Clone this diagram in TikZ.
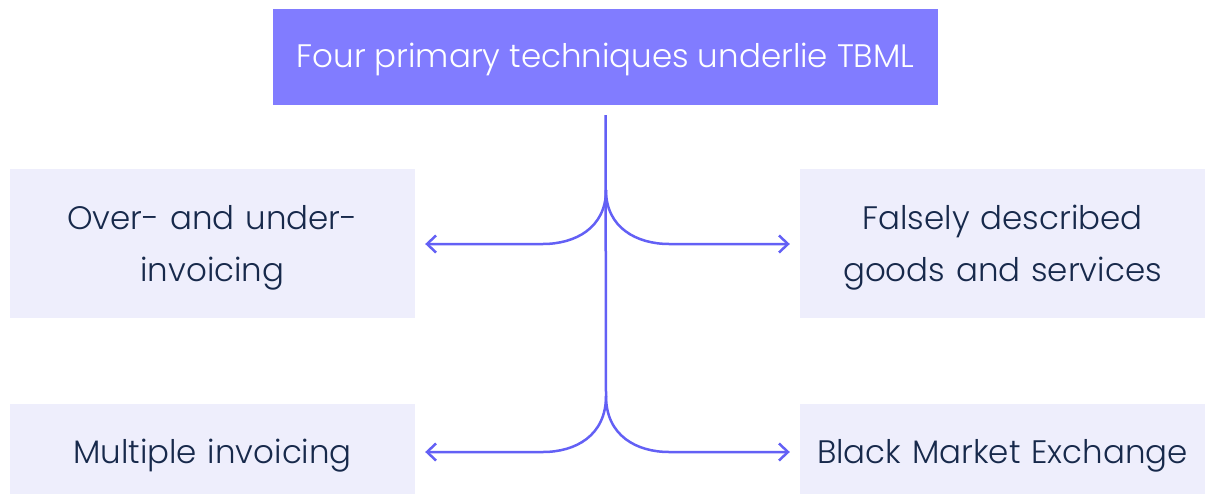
\documentclass[tikz,border=0pt]{standalone}
\usepackage{fontspec}
\setmainfont{Poppins}[UprightFont=* Light]
\usepackage{xcolor}
\usetikzlibrary{arrows.meta,positioning}
\definecolor{headfill}{HTML}{817CFF}
\definecolor{boxfill}{HTML}{EEEEFC}
\definecolor{linkcol}{HTML}{6360F5}
\definecolor{inktext}{HTML}{17294B}

\begin{document}
\begin{tikzpicture}[
  x=1pt, y=-1pt,
  font=\fontsize{32.5}{52}\selectfont,
  head/.style={fill=headfill, text=white, minimum width=665pt,
               minimum height=96pt, inner sep=0pt,
               text height=21pt, text depth=0pt},
  item/.style={fill=boxfill, text=inktext, align=center, inner sep=0pt,
               minimum width=405pt, text width=400pt},
  tall/.style={item, minimum height=149pt, text height=22pt, text depth=51pt},
  flat/.style={item, minimum height=90pt, text height=28pt, text depth=0pt},
  link/.style={draw=linkcol, line width=2.5pt},
  arr/.style={link, -{Straight Barb[length=9pt, width=17pt, line width=2.5pt]}}
]
\useasboundingbox (0,0) rectangle (1207,495);
\node[head] (top) at (605.5,57) {Four primary techniques underlie TBML};
\node[tall] (ovr) at (212.5,243.5) {Over- and under-\\invoicing};
\node[tall] (fds) at (1002.5,243.5) {Falsely described\\goods and services};
\node[flat] (mul) at (212.5,449) {Multiple invoicing};
\node[flat] (bme) at (1002.5,449) {Black Market Exchange};
\coordinate (j1) at (606,190);
\coordinate (j2) at (606,396);
% trunk
\draw[link] ([yshift=-10pt]top.south) -- (j2);
% upper branches
\draw[arr] (j1) .. controls (606,228) and (575,244) .. (543,244)
  -- ([xshift=10pt]ovr.east |- 0,244);
\draw[arr] (j1) .. controls (606,228) and (637,244) .. (669,244)
  -- ([xshift=-10pt]fds.west |- 0,244);
% lower branches
\draw[arr] (j2) .. controls (606,436) and (575,452) .. (543,452)
  -- ([xshift=10pt]mul.east |- 0,452);
\draw[arr] (j2) .. controls (606,436) and (637,452) .. (669,452)
  -- ([xshift=-10pt]bme.west |- 0,452);
\end{tikzpicture}
\end{document}
